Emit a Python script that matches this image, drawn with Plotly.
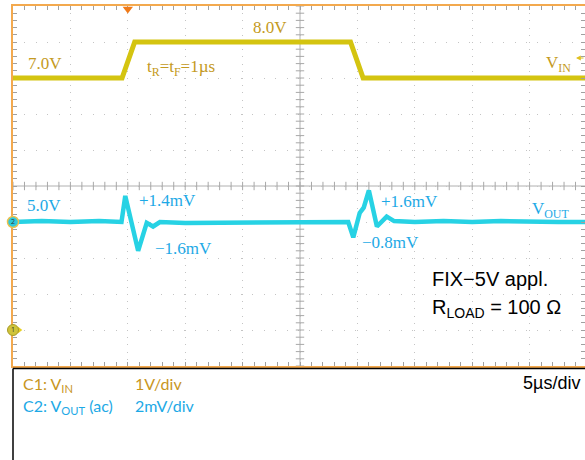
import numpy as np
import plotly.graph_objects as go

# scope capture: 5us/div, CH1 1V/div, CH2 2mV/div (ac)
vin_t = [0, 9.5, 10.6, 29.4, 30.5, 50]
vin_v = [7.0, 7.0, 8.0, 8.0, 7.0, 7.0]

vout_t = [0, 2.5, 5, 7.5, 9.45, 9.78, 10.9, 11.65, 12.2, 12.8,
          15, 17.5, 20, 22.5, 25, 27.5, 29.2, 29.64, 30.2, 30.55, 31.0, 31.7,
          32.55, 33.2, 35, 37.5, 40, 42.5, 45, 47.5, 50]
vout_mv = [0, 0.05, 0, 0.05, 0, 1.45, -1.6, -0.05, -0.25, 0,
           -0.05, -0.05, 0, 0, -0.05, 0, 0, -0.85, 0.5, 0.8, 1.75, -0.25,
           0.3, 0.05, 0, 0.05, 0, 0.05, 0, 0, 0]

W, H = 585, 460
L, T, B = 13, 6, 94
PW = W - L
PH = H - T - B

GOLD = "#c49a22"
BLUE = "#1da9e6"
ORANGE = "#f3a94e"
GRID = "#c4c4c4"
TICK = "#a0a0a0"


def px(x, y):
    # pixel position -> paper coords
    return (x - L) / PW, (H - B - y) / PH


fig = go.Figure()

# centre cross with its small tick marks
ct = np.arange(0, 50.01, 1.0)
cv = np.arange(-1, 9.01, 0.2)
fig.add_trace(go.Scatter(x=ct, y=[4] * len(ct), mode="markers", hoverinfo="skip",
                         marker=dict(symbol="line-ns", size=6, line=dict(width=1, color="#a8a8a8"))))
fig.add_trace(go.Scatter(x=[25] * len(cv), y=cv, mode="markers", hoverinfo="skip",
                         marker=dict(symbol="line-ew", size=6, line=dict(width=1, color="#a8a8a8"))))

fig.add_trace(go.Scatter(x=vin_t, y=vin_v, mode="lines",
                         line=dict(color="#d4c410", width=5)))
fig.add_trace(go.Scatter(x=vout_t, y=vout_mv, mode="lines", yaxis="y2",
                         line=dict(color="#27d2e4", width=4.5)))

# channel / trigger markers
fig.add_trace(go.Scatter(x=[10], y=[8.92], mode="markers", cliponaxis=False,
                         marker=dict(symbol="triangle-down", size=9, color="#f07a18")))
fig.add_trace(go.Scatter(x=[0], y=[0], yaxis="y2", mode="markers+text", cliponaxis=False,
                         text=["2"], textfont=dict(size=7, color="#333333"),
                         marker=dict(size=11, color="#2cc9dc", line=dict(color="#e8c050", width=1.5))))
fig.add_trace(go.Scatter(x=[0.55], y=[0], mode="markers", yaxis="y3", cliponaxis=False,
                         marker=dict(symbol="triangle-right", size=6, color="#e8d020")))
fig.add_trace(go.Scatter(x=[0], y=[0], mode="markers+text", yaxis="y3", cliponaxis=False,
                         text=["1"], textfont=dict(size=7, color="#333333"),
                         marker=dict(size=11, color="#cfc43a", line=dict(color="#a89a28", width=1))))

fig.update_layout(
    width=W, height=H,
    margin=dict(l=L, r=0, t=T, b=B),
    plot_bgcolor="white", paper_bgcolor="white",
    showlegend=False,
    xaxis=dict(range=[0, 50 * PW / 574], dtick=5, showticklabels=False,
               showgrid=True, gridcolor=GRID, gridwidth=1, griddash="1px,6.2px",
               zeroline=False, showline=True, linecolor=ORANGE, linewidth=2,
               mirror="allticks", ticks="inside", ticklen=4, tickcolor=TICK,
               layer="below traces",
               minor=dict(dtick=1, ticks="inside", ticklen=4, tickcolor=TICK)),
    yaxis=dict(range=[-1, 9], dtick=1, showticklabels=False,
               showgrid=True, gridcolor=GRID, gridwidth=1, griddash="1px,10.4px",
               zeroline=False, showline=True, linecolor=ORANGE, linewidth=2,
               mirror=False, ticks="inside", ticklen=4, tickcolor=TICK,
               layer="below traces",
               minor=dict(dtick=0.2, ticks="inside", ticklen=4, tickcolor=TICK)),
    yaxis2=dict(range=[-8, 12], overlaying="y", visible=False),
    # right edge: ticks only, the frame line is off the capture
    yaxis3=dict(range=[-1, 9], overlaying="y", side="right", anchor="x",
                dtick=1, showticklabels=False, showgrid=False, zeroline=False,
                showline=False, ticks="inside", ticklen=4, tickcolor=TICK,
                minor=dict(dtick=0.2, ticks="inside", ticklen=4, tickcolor=TICK)),
)

# centre lines
fig.add_shape(type="line", xref="x", yref="paper", x0=25, x1=25, y0=0, y1=1,
              line=dict(color="#b0b0b0", width=1), layer="below")
fig.add_shape(type="line", xref="paper", yref="y", x0=0, x1=1, y0=4, y1=4,
              line=dict(color="#b0b0b0", width=1), layer="below")

# black frame of the info panel
x0, y0 = px(13, 368.5)
x1, y1 = px(585, 460)
fig.add_shape(type="line", xref="paper", yref="paper", x0=x0, x1=x1, y0=y0, y1=y0,
              line=dict(color="black", width=1.5))
fig.add_shape(type="line", xref="paper", yref="paper", x0=x0, x1=x0, y0=y0, y1=y1,
              line=dict(color="black", width=1.5))

labels = [
    ("7.0V", 26, 63, GOLD, "left", "Liberation Serif", 17),
    ("8.0V", 251, 27, GOLD, "left", "Liberation Serif", 17),
    ("t<sub>R</sub>=t<sub>F</sub>=1µs", 145, 68, GOLD, "left", "Liberation Serif", 17),
    ("V<sub>IN</sub>", 573, 64, GOLD, "right", "Liberation Serif", 17),
    ("5.0V", 25, 205, BLUE, "left", "Liberation Serif", 17),
    ("+1.4mV", 137, 200, BLUE, "left", "Liberation Serif", 17),
    ("−1.6mV", 153, 248, BLUE, "left", "Liberation Serif", 17),
    ("+1.6mV", 379, 201, BLUE, "left", "Liberation Serif", 17),
    ("−0.8mV", 360, 242, BLUE, "left", "Liberation Serif", 17),
    ("V<sub>OUT</sub>", 571, 210, BLUE, "right", "Liberation Serif", 17),
    ("FIX−5V appl.", 430, 279, "black", "left", "Liberation Sans", 20),
    ("R<sub>LOAD</sub> = 100 Ω", 430, 308, "black", "left", "Liberation Sans", 20),
    ("5µs/div", 582, 383, "black", "right", "Liberation Sans", 18),
    ("C1: V<sub>IN</sub>", 21, 384, "#c8961e", "left", "Lato", 16),
    ("1V/div", 133, 383, "#c8961e", "left", "Lato", 16),
    ("C2: V<sub>OUT</sub> (ac)", 21, 406, BLUE, "left", "Lato", 16),
    ("2mV/div", 133, 405, BLUE, "left", "Lato", 16),
]
for text, x, y, color, anchor, family, size in labels:
    ax, ay = px(x, y)
    fig.add_annotation(x=ax, y=ay, xref="paper", yref="paper", text=text,
                       showarrow=False, xanchor=anchor, yanchor="middle",
                       font=dict(family=family, size=size, color=color))

# VIN reference arrow on the right edge
ax, ay = px(576, 58)
fig.add_annotation(x=ax, y=ay, xref="paper", yref="paper", text="", showarrow=True,
                   ax=9, ay=0, arrowhead=2, arrowsize=0.8, arrowwidth=1.2,
                   arrowcolor="#e0c020")

# page has a default body margin; drop it so the figure sits at the window corner
fig.write_html("out.html", config={"displayModeBar": False},
               post_script="document.body.style.margin='0px';")
